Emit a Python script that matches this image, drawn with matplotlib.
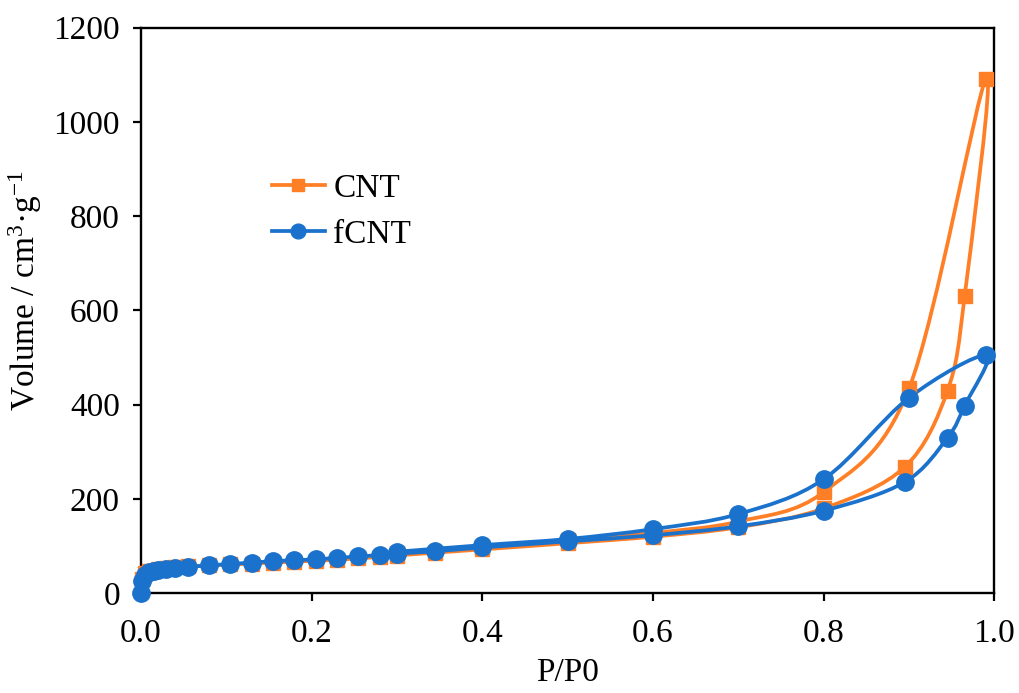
import numpy as np
import matplotlib
matplotlib.use("Agg")
import matplotlib.pyplot as plt
from matplotlib.path import Path
from matplotlib.patches import PathPatch

plt.rcParams['font.family'] = ['Liberation Serif', 'DejaVu Serif']
plt.rcParams['mathtext.fontset'] = 'custom'
plt.rcParams['mathtext.rm'] = 'Liberation Serif'
plt.rcParams['mathtext.it'] = 'Liberation Serif:italic'

# ---- data ----
cnt_ads_p = [0.001, 0.005, 0.01, 0.02, 0.03, 0.04, 0.055, 0.08, 0.105, 0.13, 0.155, 0.18,
             0.205, 0.23, 0.255, 0.28, 0.30, 0.345, 0.40, 0.50, 0.60, 0.70, 0.80, 0.895,
             0.945, 0.965, 0.99]
cnt_ads_v = [30, 42, 48, 52, 54, 55, 57, 59, 61, 63, 65, 67,
             69, 71, 74, 77, 80, 86, 93, 106, 120, 140, 180, 268,
             430, 630, 1092]
cnt_des_p = [0.90, 0.80, 0.70, 0.60, 0.50, 0.40, 0.30]
cnt_des_v = [435, 215, 152, 128, 112, 98, 85]

fcnt_ads_p = [0.0, 0.002, 0.005, 0.01, 0.015, 0.02, 0.03, 0.04, 0.055, 0.08, 0.105, 0.13,
              0.155, 0.18, 0.205, 0.23, 0.255, 0.28, 0.30, 0.345, 0.40, 0.50, 0.60, 0.70,
              0.80, 0.895, 0.945, 0.965, 0.99]
fcnt_ads_v = [0, 25, 38, 45, 48, 50, 52, 54, 56, 59, 62, 65,
              68, 70, 72, 75, 78, 81, 84, 89, 97, 110, 123, 142,
              175, 236, 330, 398, 505]
fcnt_des_p = [0.90, 0.80, 0.70, 0.60, 0.50, 0.40, 0.30]
fcnt_des_v = [415, 242, 168, 136, 115, 102, 88]

x_ticks = [0.0, 0.2, 0.4, 0.6, 0.8, 1.0]
y_ticks = [0, 200, 400, 600, 800, 1000, 1200]

orange = '#FF7F27'
blue = '#1B72CC'


def smooth_path(xs, ys):
    pts = np.column_stack([xs, ys]).astype(float)
    n = len(pts)
    verts = [pts[0]]
    codes = [Path.MOVETO]
    for i in range(n - 1):
        p0 = pts[i - 1] if i > 0 else pts[i]
        p1 = pts[i]
        p2 = pts[i + 1]
        p3 = pts[i + 2] if i + 2 < n else pts[i + 1]
        c1 = p1 + (p2 - p0) / 6.0
        c2 = p2 - (p3 - p1) / 6.0
        verts += [c1, c2, p2]
        codes += [Path.CURVE4] * 3
    return Path(verts, codes)


fig = plt.figure(figsize=(10.2, 6.93), dpi=100)
ax = fig.add_axes([0.138, 0.144, 0.837, 0.816])

for ap, av, dp, dv, col, mk, ms, lab in [
        (cnt_ads_p, cnt_ads_v, cnt_des_p, cnt_des_v, orange, 's', 10.5, 'CNT'),
        (fcnt_ads_p, fcnt_ads_v, fcnt_des_p, fcnt_des_v, blue, 'o', 12.5, 'fCNT')]:
    xs = list(ap) + list(dp)
    ys = list(av) + list(dv)
    patch = PathPatch(smooth_path(xs, ys), facecolor='none', edgecolor=col,
                      lw=2.7, capstyle='round', joinstyle='round')
    ax.add_patch(patch)
    ax.plot(xs, ys, linestyle='none', marker=mk, ms=ms, color=col, mec=col,
            clip_on=False, zorder=3)
    ax.plot([], [], color=col, lw=2.7, marker=mk, ms=ms * 0.85, label=lab)

ax.set_xlim(0, 1.0)
ax.set_ylim(0, 1200)
ax.set_xticks(x_ticks)
ax.set_xticklabels([f"{t:.1f}" for t in x_ticks])
ax.set_yticks(y_ticks)
ax.tick_params(axis='both', direction='out', length=6, width=1.6, labelsize=24,
               colors='black')
ax.tick_params(axis='x', pad=12)
ax.tick_params(axis='y', pad=9)
for s in ax.spines.values():
    s.set_linewidth(1.7)
    s.set_color('black')
    s.set_zorder(2.5)

ax.set_xlabel('P/P0', fontsize=24, labelpad=6)
ax.set_ylabel('Volume / cm$^{3}$·g$^{-1}$', fontsize=24)
ax.yaxis.set_label_coords(-0.113, 0.535)

leg = ax.legend(loc='upper left', bbox_to_anchor=(0.118, 0.795), frameon=False,
                fontsize=24, handlelength=1.6, handletextpad=0.25, labelspacing=0.45)

fig.savefig('out.png', dpi=100)
